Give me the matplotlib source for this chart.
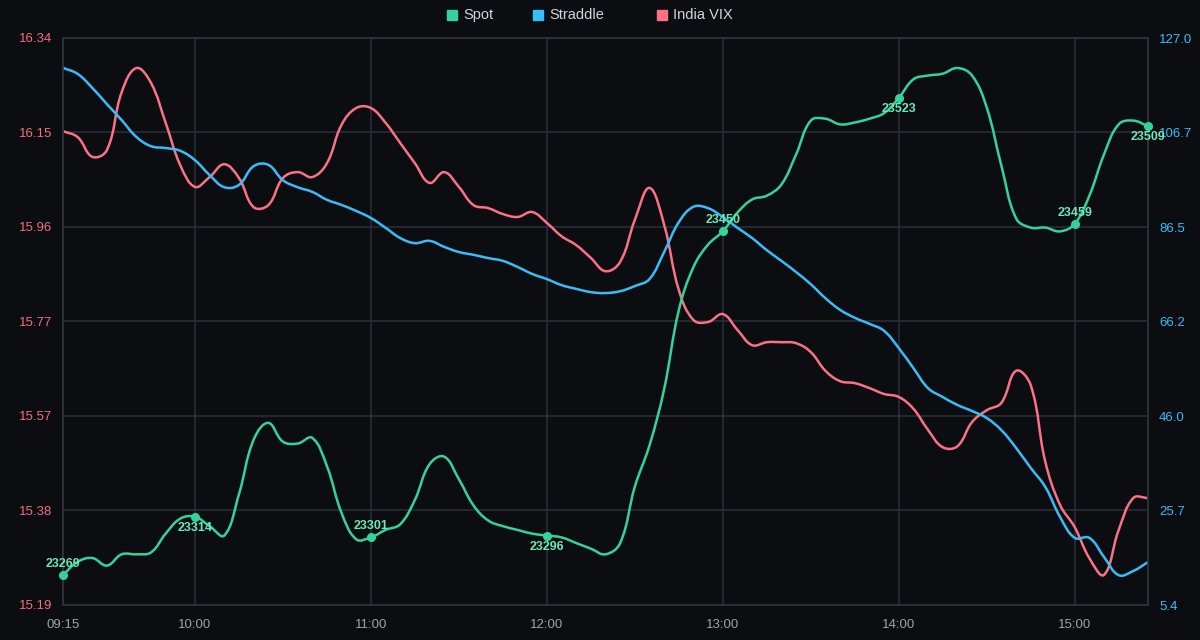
import numpy as np
import pandas as pd
import matplotlib
matplotlib.use("Agg")
import matplotlib.pyplot as plt
from matplotlib.path import Path
from matplotlib.patches import PathPatch
from matplotlib.lines import Line2D

plt.rcParams['font.family'] = ['Liberation Sans', 'DejaVu Sans']

# ---------------- data ----------------
times = pd.date_range("2024-01-01 09:15", "2024-01-01 15:25", freq="5min")

spot = [23269, 23276, 23278, 23274, 23280, 23280, 23281, 23291, 23299, 23300,
        23295, 23290, 23312, 23341, 23350, 23340, 23339, 23342, 23327, 23302,
        23288, 23289, 23293, 23296, 23309, 23328, 23332, 23320, 23306, 23298,
        23295, 23293, 23291, 23290, 23289, 23286, 23283, 23280, 23286, 23316,
        23338, 23368, 23410, 23433, 23445, 23452, 23462, 23469, 23471, 23477,
        23493, 23511, 23512, 23509, 23510, 23512, 23515, 23523, 23533, 23535,
        23536, 23539, 23535, 23518, 23487, 23459, 23454, 23454, 23452, 23456,
        23471, 23493, 23509, 23511, 23508]

straddle = [120.6, 119.3, 116.3, 112.8, 109.4, 105.8, 103.8, 103.4, 102.8, 100.8,
            97.6, 95.0, 95.5, 99.5, 99.8, 96.5, 95.0, 94.0, 92.3, 91.2,
            89.9, 88.4, 86.3, 84.1, 83.0, 83.5, 82.2, 81.1, 80.5, 79.8,
            79.2, 77.9, 76.4, 75.3, 74.0, 73.2, 72.5, 72.3, 72.7, 73.8,
            75.3, 81.1, 87.5, 90.8, 90.5, 88.6, 86.3, 84.1, 81.5, 79.2,
            76.8, 74.2, 71.2, 68.7, 67.0, 65.7, 64.2, 60.5, 56.2, 51.9,
            50.0, 48.3, 47.0, 45.5, 42.9, 39.1, 34.8, 30.7, 24.3, 19.8,
            19.8, 15.7, 11.8, 12.7, 14.6]

vix = [16.151, 16.139, 16.099, 16.113, 16.230, 16.279, 16.249, 16.168, 16.082, 16.038,
       16.058, 16.084, 16.056, 15.997, 16.001, 16.056, 16.068, 16.058, 16.086, 16.164,
       16.198, 16.198, 16.168, 16.127, 16.086, 16.046, 16.068, 16.038, 16.001, 15.995,
       15.983, 15.977, 15.987, 15.965, 15.938, 15.920, 15.894, 15.867, 15.886, 15.971,
       16.036, 15.961, 15.829, 15.768, 15.764, 15.780, 15.748, 15.717, 15.723, 15.723,
       15.721, 15.703, 15.665, 15.644, 15.640, 15.630, 15.618, 15.612, 15.588, 15.545,
       15.510, 15.512, 15.561, 15.585, 15.600, 15.665, 15.636, 15.480, 15.393, 15.348,
       15.285, 15.251, 15.342, 15.407, 15.407]

# labelled spot points (time, label text)
spot_label_times = ["09:15", "10:00", "11:00", "12:00", "13:00", "14:00", "15:00", "15:25"]
spot_labels = ["23269", "23314", "23301", "23296", "23450", "23523", "23459", "23509"]

x_tick_labels = ["09:15", "10:00", "11:00", "12:00", "13:00", "14:00", "15:00"]
vix_ticks = ["15.19", "15.38", "15.57", "15.77", "15.96", "16.15", "16.34"]
straddle_ticks = ["5.4", "25.7", "46.0", "66.2", "86.5", "106.7", "127.0"]

# ---------------- style ----------------
BG = "#0b0d11"
GRID = "#2b303b"
C_SPOT = "#34d399"
C_STR = "#38bdf8"
C_VIX = "#fb7185"
C_SPOT_LBL = "#6ee7b7"

minutes = np.asarray((times - times[0]).total_seconds() / 60.0)
tlabels = list(times.strftime("%H:%M"))

fig = plt.figure(figsize=(12, 6.4), dpi=100, facecolor=BG)
ax = fig.add_axes([63 / 1200, 1 - 605 / 640, (1148 - 63) / 1200, (605 - 38) / 640])
ax.set_facecolor(BG)
ax2 = ax.twinx()
ax3 = ax.twinx()
for a in (ax2, ax3):
    a.patch.set_visible(False)

ax.set_xlim(minutes[0], minutes[-1])
vix_lo, vix_hi = float(vix_ticks[0]), float(vix_ticks[-1])
str_lo, str_hi = float(straddle_ticks[0]), float(straddle_ticks[-1])
ax.set_ylim(vix_lo, vix_hi)
ax2.set_ylim(str_lo, str_hi)
ax3.set_ylim(23253, 23555)

# ticks & grid
xt = [minutes[tlabels.index(t)] for t in x_tick_labels]
ax.set_xticks(xt)
ax.set_xticklabels(x_tick_labels)
ax.set_yticks(np.linspace(vix_lo, vix_hi, len(vix_ticks)))
ax.set_yticklabels(vix_ticks)
ax2.set_yticks(np.linspace(str_lo, str_hi, len(straddle_ticks)))
ax2.set_yticklabels(straddle_ticks)
ax.grid(True, color=GRID, lw=1.1)
ax.set_axisbelow(True)
ax.tick_params(axis='x', length=0, pad=10, colors="#9ca3af", labelsize=9.5)
ax.tick_params(axis='y', length=0, pad=8, colors="#f0707c", labelsize=9.5)
ax2.tick_params(axis='y', length=0, pad=8, colors=C_STR, labelsize=9.5)
ax3.set_yticks([])
ax3.tick_params(length=0)
for a in (ax, ax2, ax3):
    for s in a.spines.values():
        s.set_color(GRID)
        s.set_linewidth(1.1)


def smooth(axis, x, y, color, tension=0.4, lw=1.8, z=3):
    pts = axis.transData.transform(np.column_stack([x, y]))
    n = len(pts)
    cprev = pts.copy()
    cnext = pts.copy()
    for i in range(n):
        p0 = pts[max(i - 1, 0)]
        p1 = pts[i]
        p2 = pts[min(i + 1, n - 1)]
        d01 = np.hypot(*(p1 - p0))
        d12 = np.hypot(*(p2 - p1))
        tot = d01 + d12
        s01 = d01 / tot if tot else 0
        s12 = d12 / tot if tot else 0
        cprev[i] = p1 - tension * s01 * (p2 - p0)
        cnext[i] = p1 + tension * s12 * (p2 - p0)
    verts = [pts[0]]
    codes = [Path.MOVETO]
    for i in range(n - 1):
        verts += [cnext[i], cprev[i + 1], pts[i + 1]]
        codes += [Path.CURVE4] * 3
    verts = axis.transData.inverted().transform(np.array(verts))
    patch = PathPatch(Path(verts, codes), fill=False, edgecolor=color, lw=lw,
                      capstyle='round', joinstyle='round', zorder=z)
    axis.add_patch(patch)


smooth(ax, minutes, vix, C_VIX)
smooth(ax2, minutes, straddle, C_STR)
smooth(ax3, minutes, spot, C_SPOT)

# spot markers + labels
for k, (t, lab) in enumerate(zip(spot_label_times, spot_labels)):
    i = tlabels.index(t)
    ax3.plot(minutes[i], spot[i], 'o', color=C_SPOT, ms=5.5, zorder=5, clip_on=False)
    off = 8 if k % 2 == 0 else -8
    ax3.annotate(lab, (minutes[i], spot[i]), xytext=(0, off), textcoords='offset points',
                 ha='center', va='center', color=C_SPOT_LBL, fontsize=9,
                 fontweight='bold', zorder=6, annotation_clip=False)

# legend (manual, top centre)
legend_items = [("Spot", C_SPOT, 452), ("Straddle", C_STR, 538), ("India VIX", C_VIX, 662)]
for name, col, px in legend_items:
    fig.add_artist(Line2D([px / 1200], [1 - 15 / 640], marker='s', ms=7.5, color=col,
                          mec=col, ls='none', transform=fig.transFigure))
    fig.text((px + 11) / 1200, 1 - 15 / 640, name, color="#d1d5db", fontsize=10.5,
             ha='left', va='center')

fig.savefig("out.png", dpi=100, facecolor=BG)
